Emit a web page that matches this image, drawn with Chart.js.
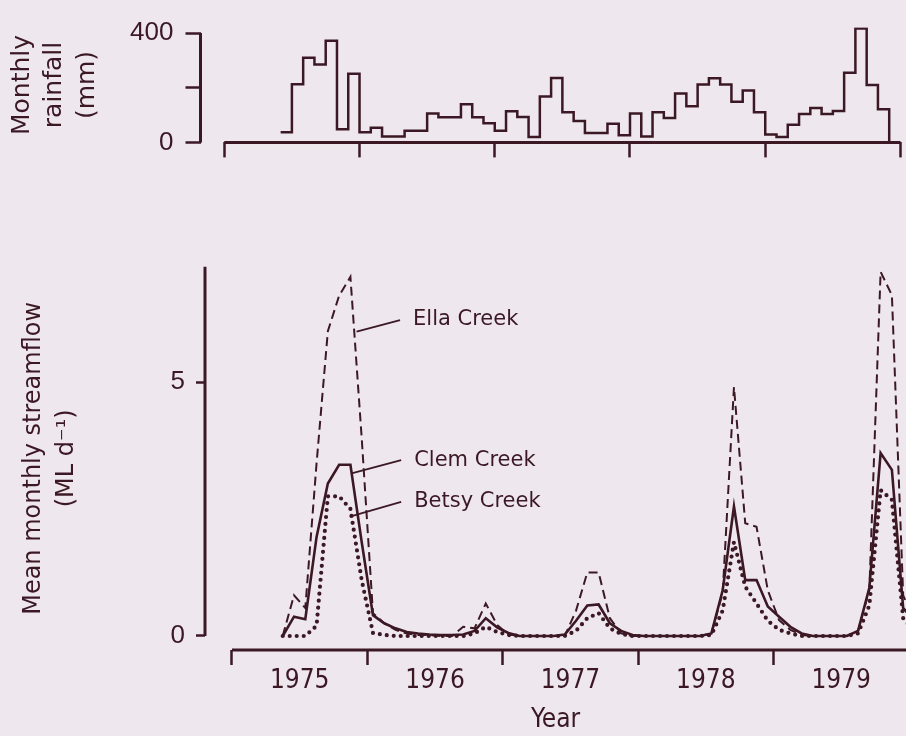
<!DOCTYPE html>
<html>
<head>
<meta charset="utf-8">
<script src="https://cdn.jsdelivr.net/npm/chart.js@4.4.1/dist/chart.umd.min.js"></script>
<style>
  body { margin: 0; background: #eee8ee; }
  #wrap { position: relative; width: 906px; height: 736px; }
  canvas { position: absolute; left: 0; }
</style>
</head>
<body>
<div id="wrap">
  <canvas id="chartRain" width="906" height="170" style="top:0"></canvas>
  <canvas id="chartFlow" width="906" height="566" style="top:170px"></canvas>
</div>
<script>
// monthly rainfall (mm), first value = June 1975 (month 5 counted from Jan 1975)
const rainStart = 5;
const rainfall = [37, 213, 310, 285, 372, 48, 251, 37, 54, 22, 22, 43, 43, 106, 92, 92, 140, 92, 70, 43,
  114, 93, 20, 168, 236, 110, 78, 34, 34, 68, 26, 106, 22, 110, 89, 179, 132, 212, 235, 212,
  149, 190, 110, 29, 20, 65, 104, 126, 104, 115, 255, 417, 210, 121];

// mean monthly streamflow (ML/d), first value = mid May 1975
const flowStart = 4.5;
const ellaCreek = [0, 0.8, 0.55, 3.4, 6.0, 6.7, 7.07, 3.9, 0.45, 0.25, 0.12, 0.05, 0.02,
  0.02, 0, 0, 0.18, 0.15, 0.64, 0.22, 0.03, 0, 0, 0, 0,
  0, 0.5, 1.25, 1.25, 0.35, 0.05, 0, 0, 0, 0, 0, 0, 0,
  0.05, 0.85, 4.9, 2.22, 2.15, 0.9, 0.31, 0.12, 0.02, 0, 0, 0, 0,
  0.1, 0.9, 7.17, 6.71, 0.8, 0.3];
const clemCreek = [0, 0.38, 0.33, 1.95, 3.0, 3.37, 3.37, 1.85, 0.41, 0.25, 0.15, 0.08, 0.05,
  0.03, 0.02, 0.02, 0.03, 0.1, 0.35, 0.17, 0.06, 0, 0, 0, 0,
  0.03, 0.3, 0.6, 0.62, 0.25, 0.1, 0.02, 0, 0, 0, 0, 0, 0,
  0.05, 0.9, 2.55, 1.1, 1.1, 0.58, 0.38, 0.18, 0.05, 0, 0, 0, 0,
  0.1, 0.95, 3.6, 3.27, 0.55, 0.3];
const betsyCreek = [0, 0, 0, 0.2, 2.75, 2.75, 2.5, 1.1, 0.06, 0.02, 0, 0, 0,
  0, 0, 0, 0, 0.05, 0.18, 0.08, 0.02, 0, 0, 0, 0,
  0, 0.1, 0.35, 0.45, 0.15, 0.04, 0, 0, 0, 0, 0, 0, 0,
  0.02, 0.5, 1.85, 0.97, 0.64, 0.3, 0.12, 0.05, 0, 0, 0, 0, 0,
  0.05, 0.6, 2.87, 2.68, 0.35, 0.1];

const years = ["1975", "1976", "1977", "1978", "1979"];
const rainTicks = [0, 200, 400];
const rainTickLabels = ["0", "", "400"];
const flowTicks = [0, 5];
const creekLabels = [
  { text: "Ella Creek", from: [11.05, 5.99], to: [14.9, 6.22] },
  { text: "Clem Creek", from: [10.6, 3.2], to: [15.0, 3.46] },
  { text: "Betsy Creek", from: [10.45, 2.35], to: [15.0, 2.64] }
];

const ink = "#3b1824";
const numFont = "'Liberation Sans', Arial, sans-serif";
const narrowFont = "'Liberation Sans Narrow', 'DejaVu Sans Condensed', 'Liberation Sans', sans-serif";
const textFont = "'DejaVu Sans', sans-serif";

// axis lines are drawn only over the span the figure uses (detached axes)
const axisLines = {
  id: "axisLines",
  afterDraw(chart, args, opts) {
    const ctx = chart.ctx, area = chart.chartArea;
    const x = chart.scales.x, y = chart.scales.y;
    ctx.save();
    ctx.strokeStyle = ink;
    ctx.lineWidth = 3;
    ctx.beginPath();
    ctx.moveTo(area.left, y.getPixelForValue(opts.yFrom));
    ctx.lineTo(area.left, opts.yTo == null ? area.top : y.getPixelForValue(opts.yTo));
    ctx.moveTo(x.getPixelForValue(opts.xFrom), area.bottom);
    ctx.lineTo(Math.min(x.getPixelForValue(opts.xTo), area.right), area.bottom);
    ctx.stroke();
    ctx.restore();
  }
};

const creekNames = {
  id: "creekNames",
  afterDatasetsDraw(chart, args, opts) {
    if (!opts.items) return;
    const ctx = chart.ctx;
    const x = chart.scales.x, y = chart.scales.y;
    ctx.save();
    ctx.strokeStyle = ink;
    ctx.fillStyle = ink;
    ctx.lineWidth = 1.8;
    ctx.font = "21px " + textFont;
    ctx.textBaseline = "middle";
    opts.items.forEach(function (item) {
      const x1 = x.getPixelForValue(item.from[0]), y1 = y.getPixelForValue(item.from[1]);
      const x2 = x.getPixelForValue(item.to[0]), y2 = y.getPixelForValue(item.to[1]);
      ctx.beginPath();
      ctx.moveTo(x1, y1);
      ctx.lineTo(x2, y2);
      ctx.stroke();
      ctx.fillText(item.text, x2 + 13, y2);
    });
    ctx.restore();
  }
};

function setTicks(values) {
  return function (scale) {
    scale.ticks = values.map(v => ({ value: v }));
  };
}

function fixWidth(w) {
  return function (scale) { scale.width = w; };
}

function fixHeight(h) {
  return function (scale) { scale.height = h; };
}

const rainPoints = rainfall.map((v, i) => ({ x: rainStart + i, y: v }));
rainPoints.push({ x: rainStart + rainfall.length, y: 0 });

new Chart(document.getElementById("chartRain"), {
  type: "line",
  data: {
    datasets: [{
      data: rainPoints,
      stepped: "before",
      borderColor: ink,
      borderWidth: 2.5,
      pointRadius: 0,
      fill: false
    }]
  },
  options: {
    responsive: false,
    animation: false,
    layout: { autoPadding: false, padding: { top: 16.8, left: 0, right: 0, bottom: 0 } },
    plugins: {
      legend: { display: false },
      tooltip: { enabled: false },
      axisLines: { yFrom: 0, yTo: 400, xFrom: 0, xTo: 60 }
    },
    scales: {
      x: {
        type: "linear",
        min: -2.11,
        max: 60.49,
        afterBuildTicks: setTicks([0, 12, 24, 36, 48, 60]),
        afterFit: fixHeight(27.5),
        border: { display: false },
        grid: { drawOnChartArea: false, tickLength: 15, tickWidth: 2.5, tickColor: ink },
        ticks: { display: false }
      },
      y: {
        min: 0,
        max: 420,
        afterBuildTicks: setTicks(rainTicks),
        afterFit: fixWidth(200.5),
        border: { display: false },
        grid: { drawOnChartArea: false, tickLength: 15, tickWidth: 2.5, tickColor: ink },
        ticks: {
          padding: 12,
          color: ink,
          font: { family: numFont, size: 26 },
          callback: (v, i) => rainTickLabels[i]
        },
        title: {
          display: true,
          text: ["Monthly", "rainfall", "(mm)"],
          color: ink,
          font: { family: textFont, size: 25, lineHeight: 1.3 },
          padding: { top: 6, bottom: 0 }
        }
      }
    }
  },
  plugins: [axisLines]
});

function flowSeries(values) {
  return values.map((v, i) => ({ x: flowStart + i, y: v }));
}

new Chart(document.getElementById("chartFlow"), {
  type: "line",
  data: {
    datasets: [
      {
        label: "Ella Creek",
        data: flowSeries(ellaCreek),
        borderColor: ink,
        borderWidth: 2,
        borderDash: [9, 5],
        pointRadius: 0,
        tension: 0
      },
      {
        label: "Clem Creek",
        data: flowSeries(clemCreek),
        borderColor: ink,
        borderWidth: 2.6,
        pointRadius: 0,
        tension: 0
      },
      {
        label: "Betsy Creek",
        data: flowSeries(betsyCreek),
        borderColor: ink,
        borderWidth: 4.2,
        borderDash: [0, 7],
        borderCapStyle: "round",
        pointRadius: 0,
        tension: 0
      }
    ]
  },
  options: {
    responsive: false,
    animation: false,
    layout: { autoPadding: false, padding: { top: 96.7, left: 0, right: 0, bottom: 0 } },
    plugins: {
      legend: { display: false },
      tooltip: { enabled: false },
      axisLines: { yFrom: 0, yTo: null, xFrom: 0, xTo: 70 },
      creekNames: { items: creekLabels }
    },
    scales: {
      x: {
        type: "linear",
        min: -2.39,
        max: 59.75,
        afterBuildTicks: setTicks([0, 6, 12, 18, 24, 30, 36, 42, 48, 54]),
        afterFit: fixHeight(86),
        border: { display: false },
        grid: {
          drawOnChartArea: false,
          tickLength: 15,
          tickWidth: 2.5,
          tickColor: c => (c.tick && c.tick.value % 12 === 0) ? ink : "rgba(0,0,0,0)"
        },
        ticks: {
          padding: 1,
          color: ink,
          maxRotation: 0,
          autoSkip: false,
          font: { family: narrowFont, size: 26 },
          callback: v => v % 12 === 6 ? years[(v - 6) / 12] : ""
        },
        title: {
          display: true,
          text: "Year",
          color: ink,
          font: { family: narrowFont, size: 26, lineHeight: 1.2 },
          padding: { top: 0, bottom: 0 }
        }
      },
      y: {
        min: -0.276,
        max: 7.27,
        afterBuildTicks: setTicks(flowTicks),
        afterFit: fixWidth(205),
        border: { display: false },
        grid: { drawOnChartArea: false, tickLength: 9, tickWidth: 2.5, tickColor: ink },
        ticks: {
          padding: 11,
          color: ink,
          font: { family: numFont, size: 26 }
        },
        title: {
          display: true,
          text: ["Mean monthly streamflow", "(ML d\u207B\u00B9)"],
          color: ink,
          font: { family: textFont, size: 24, lineHeight: 1.35 },
          padding: { top: 18, bottom: 0 }
        }
      }
    }
  },
  plugins: [axisLines, creekNames]
});
</script>
</body>
</html>
